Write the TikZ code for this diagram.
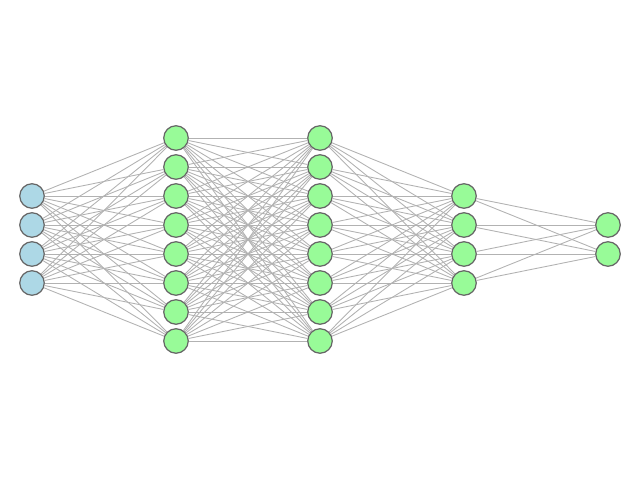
\documentclass[tikz,border=0pt]{standalone}
\usetikzlibrary{backgrounds}
\definecolor{inputblue}{HTML}{ADD8E6}
\definecolor{hiddengreen}{HTML}{98FB98}

\begin{document}
\begin{tikzpicture}[
  neuron/.style={circle, draw=black!60, line width=0.35pt, minimum size=0.245cm, inner sep=0pt},
  input/.style={neuron, fill=inputblue},
  hidden/.style={neuron, fill=hiddengreen},
  link/.style={draw=gray!60, line width=0.25pt}]
\useasboundingbox (0,0) rectangle (6.4,4.8);

% input layer
\foreach \i in {1,...,4}
  \node[input] (n-1-\i) at (0.32, {2.405 + (2.5-\i)*0.29}) {};

% hidden and output layers
\foreach \l/\n/\x in {2/8/1.76, 3/8/3.20, 4/4/4.64, 5/2/6.08}
  \foreach \i in {1,...,\n}
    \node[hidden] (n-\l-\i) at (\x, {2.405 + ((\n+1)/2-\i)*0.29}) {};

% connections
\begin{scope}[on background layer]
\foreach \a/\na/\b/\nb in {1/4/2/8, 2/8/3/8, 3/8/4/4, 4/4/5/2}
  \foreach \i in {1,...,\na}
    \foreach \j in {1,...,\nb}
      \draw[link] (n-\a-\i) -- (n-\b-\j);
\end{scope}
\end{tikzpicture}
\end{document}
